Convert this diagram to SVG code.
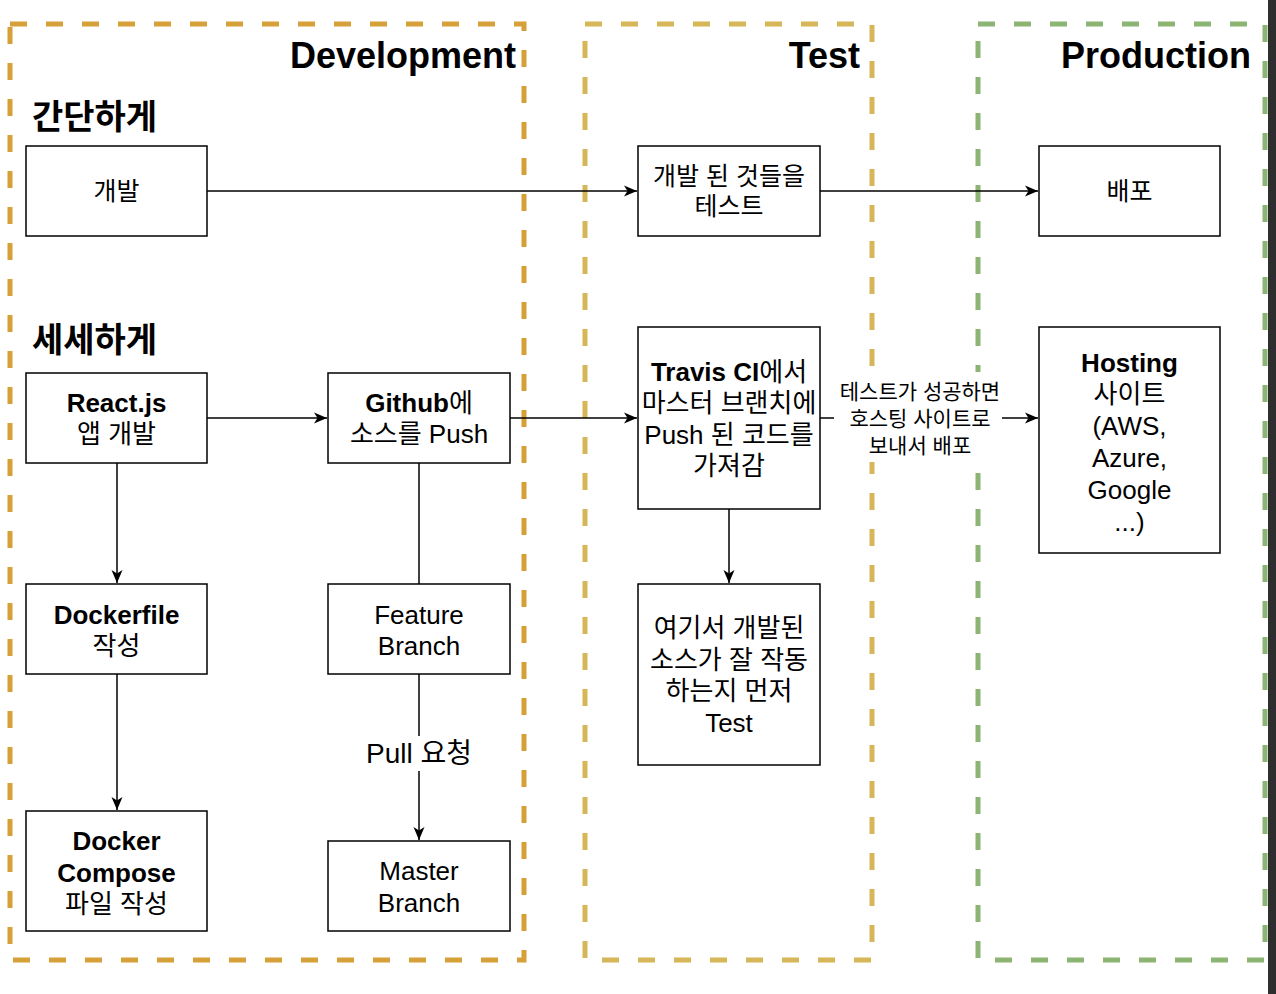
<svg xmlns="http://www.w3.org/2000/svg" width="1276" height="994" viewBox="0 0 1276 994">
<style>
.zone{fill:none;stroke-width:5;stroke-dasharray:17 19}
.box{fill:#fff;stroke:#000;stroke-width:1.5}
.t{font-family:"Liberation Sans","Noto Sans CJK KR",sans-serif;font-size:26px;text-anchor:middle;fill:#000}
.s{font-size:25px}
.b{font-weight:bold}
.title{font-family:"Liberation Sans","Noto Sans CJK KR",sans-serif;font-size:36px;font-weight:bold;text-anchor:end;fill:#000}
.kh{font-family:"Noto Sans CJK KR",sans-serif;font-size:34px;font-weight:bold;fill:#000}
.edge{fill:none;stroke:#000;stroke-width:1.5}
.lbl{font-family:"Liberation Sans","Noto Sans CJK KR",sans-serif;text-anchor:middle;fill:#000}
</style>
<defs>
<marker id="arr" markerUnits="userSpaceOnUse" markerWidth="14" markerHeight="12" refX="13" refY="6" orient="auto">
<path d="M0,0.5 L13,6 L0,11.5 L3.5,6 Z" fill="#000"/>
</marker>
</defs>
<rect width="1276" height="994" fill="#fff"/>
<g id="zones">
<rect id="development" class="zone" x="10" y="24" width="514" height="936" stroke="#d6a038"/>
<rect id="test" class="zone" x="585" y="24" width="287" height="936" stroke="#d6b656"/>
<rect id="production" class="zone" x="978" y="24" width="287" height="936" stroke="#8cb472"/>
<text class="title" x="516" y="68">Development</text>
<text class="title" x="860" y="68">Test</text>
<text class="title" x="1251" y="68">Production</text>
<text class="kh" x="32" y="129">간단하게</text>
<text class="kh" x="32" y="352">세세하게</text>
</g>
<g id="connectors">
<line class="edge" x1="207" y1="191" x2="637" y2="191" marker-end="url(#arr)"/>
<line class="edge" x1="820" y1="191" x2="1038" y2="191" marker-end="url(#arr)"/>
<line class="edge" x1="207" y1="418" x2="327" y2="418" marker-end="url(#arr)"/>
<line class="edge" x1="510" y1="418" x2="637" y2="418" marker-end="url(#arr)"/>
<line class="edge" x1="820" y1="418" x2="1038" y2="418" marker-end="url(#arr)"/>
<line class="edge" x1="117" y1="463" x2="117" y2="583" marker-end="url(#arr)"/>
<line class="edge" x1="117" y1="674" x2="117" y2="810" marker-end="url(#arr)"/>
<line class="edge" x1="419" y1="463" x2="419" y2="584"/>
<line class="edge" x1="419" y1="674" x2="419" y2="840" marker-end="url(#arr)"/>
<line class="edge" x1="729" y1="509" x2="729" y2="583" marker-end="url(#arr)"/>
<rect x="834" y="372" width="168" height="90" fill="#fff"/>
<text class="lbl" font-size="21" x="920" y="399">테스트가 성공하면</text>
<text class="lbl" font-size="21" x="920" y="426">호스팅 사이트로</text>
<text class="lbl" font-size="21" x="920" y="453">보내서 배포</text>
<rect x="362" y="736" width="114" height="35" fill="#fff"/>
<text class="lbl" font-size="28" x="419" y="763">Pull 요청</text>
</g>
<g id="n-dev">
<rect class="box" x="26" y="146" width="181" height="90"/>
<text class="t s" x="116.5" y="200">개발</text>
</g>
<g id="n-test">
<rect class="box" x="638" y="146" width="182" height="90"/>
<text class="t s" x="729" y="185">개발 된 것들을</text>
<text class="t s" x="729" y="215">테스트</text>
</g>
<g id="n-deploy">
<rect class="box" x="1039" y="146" width="181" height="90"/>
<text class="t s" x="1129.5" y="200">배포</text>
</g>
<g id="n-react">
<rect class="box" x="26" y="373" width="181" height="90"/>
<text class="t b" x="116.5" y="412">React.js</text>
<text class="t" x="116.5" y="443">앱 개발</text>
</g>
<g id="n-github">
<rect class="box" x="328" y="373" width="182" height="90"/>
<text class="t" x="419" y="412"><tspan class="b">Github</tspan>에</text>
<text class="t" x="419" y="443">소스를 Push</text>
</g>
<g id="n-travis">
<rect class="box" x="638" y="327" width="182" height="182"/>
<text class="t" x="729" y="381"><tspan class="b">Travis CI</tspan>에서</text>
<text class="t" x="729" y="412">마스터 브랜치에</text>
<text class="t" x="729" y="444">Push 된 코드를</text>
<text class="t" x="729" y="475">가져감</text>
</g>
<g id="n-hosting">
<rect class="box" x="1039" y="327" width="181" height="226"/>
<text class="t b" x="1129.5" y="372">Hosting</text>
<text class="t" x="1129.5" y="403">사이트</text>
<text class="t" x="1129.5" y="435">(AWS,</text>
<text class="t" x="1129.5" y="467">Azure,</text>
<text class="t" x="1129.5" y="499">Google</text>
<text class="t" x="1129.5" y="531">...)</text>
</g>
<g id="n-dockerfile">
<rect class="box" x="26" y="584" width="181" height="90"/>
<text class="t b" x="116.5" y="624">Dockerfile</text>
<text class="t" x="116.5" y="655">작성</text>
</g>
<g id="n-feature">
<rect class="box" x="328" y="584" width="182" height="90"/>
<text class="t" x="419" y="624">Feature</text>
<text class="t" x="419" y="655">Branch</text>
</g>
<g id="n-localtest">
<rect class="box" x="638" y="584" width="182" height="181"/>
<text class="t" x="729" y="637">여기서 개발된</text>
<text class="t" x="729" y="669">소스가 잘 작동</text>
<text class="t" x="729" y="700">하는지 먼저</text>
<text class="t" x="729" y="732">Test</text>
</g>
<g id="n-compose">
<rect class="box" x="26" y="811" width="181" height="120"/>
<text class="t b" x="116.5" y="850">Docker</text>
<text class="t b" x="116.5" y="882">Compose</text>
<text class="t" x="116.5" y="913">파일 작성</text>
</g>
<g id="n-master">
<rect class="box" x="328" y="841" width="182" height="90"/>
<text class="t" x="419" y="880">Master</text>
<text class="t" x="419" y="912">Branch</text>
</g>
<rect id="edge-bar" x="1268" y="0" width="8" height="994" fill="#2e2e2e"/>
</svg>
